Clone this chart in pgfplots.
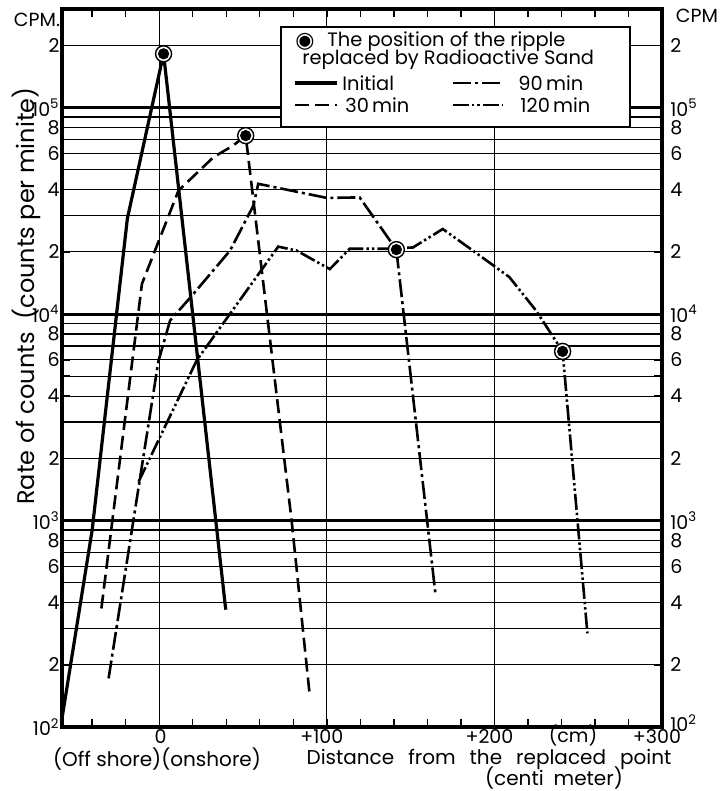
\documentclass[border=0pt]{standalone}
\usepackage{fontspec}
\setmainfont{Poppins}
\newfontfamily\dejavu{DejaVu Sans}
\usepackage{pgfplots}
\pgfplotsset{compat=1.18}

\tikzset{
  sinit/.style={line width=1.6pt},
  s30/.style={line width=1.3pt, dash pattern=on 7pt off 3pt},
  s90/.style={line width=1.3pt, dash pattern=on 9pt off 2pt on 1.5pt off 2pt},
  s120/.style={line width=1.3pt, dash pattern=on 8pt off 1.5pt on 1.2pt off 1.5pt on 1.2pt off 1.5pt},
}

\begin{document}
\begin{tikzpicture}
\begin{axis}[
    width=300pt, height=359pt, scale only axis,
    xmin=-58, xmax=300,
    ymode=log, ymin=100, ymax=300000,
    ytick={100,200,400,600,800,1000,2000,4000,6000,8000,10000,20000,40000,60000,80000,100000,200000},
    yticklabels={10\textsuperscript{2},2,4,6,8,10\textsuperscript{3},2,4,6,8,10\textsuperscript{4},2,4,6,8,10\textsuperscript{5},2},
    ticklabel style={font=\fontsize{9.5}{11}\selectfont},
    axis line style={line width=1.6pt},
    xtick={0,100,200,300}, xticklabels={\phantom{+}0,+100,+200,+300},
    xticklabel style={inner sep=0.5pt, yshift=-0.5pt, xshift=-2.5pt},
    minor xtick={-40,-20,20,40,60,80,120,140,160,180,220,240,260,280},
    minor ytick={300,500,700,900,3000,5000,7000,9000,30000,50000,70000,90000},
    tick style={black, line width=0.7pt},
    major tick length=4pt, minor tick length=4pt,
    xmajorgrids, ymajorgrids, yminorgrids,
    major grid style={black, line width=0.6pt},
    minor grid style={black, line width=0.6pt},
    extra y ticks={100,1000,10000,100000},
    extra y tick labels={},
    extra y tick style={major grid style={black, line width=1.5pt}},
    yticklabel style={inner sep=1pt},
]
% Initial
\addplot[sinit] coordinates {
  (-58,110) (-40,900) (-19,29000) (2.6,182000) (39.7,370)
};
% 30 min
\addplot[s30] coordinates {
  (-34.5,375) (-10.3,14000) (11.5,39600) (32.3,57400) (44.2,65500)
  (51.6,73100) (79,1000) (89.9,140)
};
% 90 min
\addplot[s90] coordinates {
  (-30.2,172) (-0.5,5900) (6.5,9300) (18.5,12000) (42.3,20300)
  (56.2,33500) (59.1,42700) (100,36500) (119.6,36700) (141.5,20500)
  (164.9,435)
};
% 120 min
\addplot[s120] coordinates {
  (-12.3,1540) (22.4,5970) (71,21200) (81.9,20300) (101.8,16500)
  (113.7,20700) (135.5,20700) (151.4,21000) (169.2,25800) (187.1,20300)
  (208.9,15100) (224.8,10400) (240.7,6590) (255.5,284)
};
% position of the ripple replaced by radioactive sand
\addplot[only marks, mark=*, mark size=4pt,
  mark options={fill=white, draw=black, line width=0.7pt}] coordinates {
  (2.6,182000) (51.6,73100) (141.5,20500) (240.7,6590)
};
\addplot[only marks, mark=*, mark size=2.6pt, black] coordinates {
  (2.6,182000) (51.6,73100) (141.5,20500) (240.7,6590)
};
\end{axis}

% right hand tick labels
\begin{axis}[
    width=300pt, height=359pt, scale only axis,
    xmin=-58, xmax=300,
    ymode=log, ymin=100, ymax=300000,
    ytick={100,200,400,600,800,1000,2000,4000,6000,8000,10000,20000,40000,60000,80000,100000,200000},
    yticklabels={\raisebox{4pt}{10\textsuperscript{2}},2,4,6,8,10\textsuperscript{3},2,4,6,8,10\textsuperscript{4},2,4,6,8,10\textsuperscript{5},2},
    ticklabel style={font=\fontsize{9.5}{11}\selectfont},
    yticklabel pos=right, xtick=\empty,
    axis line style={draw=none}, tick style={draw=none},
    yticklabel style={inner sep=1pt, xshift=3pt},
]
\addplot[draw=none] coordinates {(0,1000)};
\end{axis}

\begin{scope}[shift={([shift={(-31pt,4.5pt)}]current axis.north west)}, x=0.5pt, y=-0.5pt]
  \node[font=\fontsize{9.5}{11}\selectfont] at (37,20) {CPM.};
  \node[font=\fontsize{9.5}{11}\selectfont] at (697,15.5) {CPM};
  \node[rotate=90, font=\fontsize{12}{14}\selectfont] at (26,296) {Rate of counts\ \ (counts per minite)};
  \begin{scope}[every node/.style={inner sep=0pt}]
    \node[font=\fontsize{9.5}{11}\selectfont] at (573,735) {(cm)};
    \node[font=\fontsize{10}{12}\selectfont] at (157,759) {(Off shore)(onshore)};
    \node[font=\fontsize{10}{12}\selectfont] at (489,759) {Distance\hspace{7pt}from\hspace{7pt}the\hspace{7pt}replaced\hspace{7pt}point};
    \node[font=\fontsize{10}{12}\selectfont] at (554,778) {(centi\hspace{5pt}meter)};
  \end{scope}
  % legend
  \draw[line width=1.2pt, fill=white] (281,27) rectangle (630,127);
  \node[font=\dejavu\fontsize{11}{11}\selectfont, inner sep=0] at (305,42) {◉};
  \begin{scope}[every node/.style={anchor=west, inner sep=0, font=\fontsize{9.7}{11}\selectfont}]
    \node at (327,42) {The position of the ripple};
    \node at (302,60) {replaced by Radioactive Sand};
    \draw[sinit] (295,83) -- (337,83);
    \node at (342,83) {Initial};
    \draw[s90] (453,83) -- (503,83);
    \node at (518,83) {90\,min};
    \draw[s30] (295,105) -- (337,105);
    \node at (345,105) {30\,min};
    \draw[s120] (453,105) -- (503,105);
    \node at (520,105) {120\,min};
  \end{scope}
  \pgfresetboundingbox
  \path (0,0) rectangle (719,791);
\end{scope}
\end{tikzpicture}
\end{document}
